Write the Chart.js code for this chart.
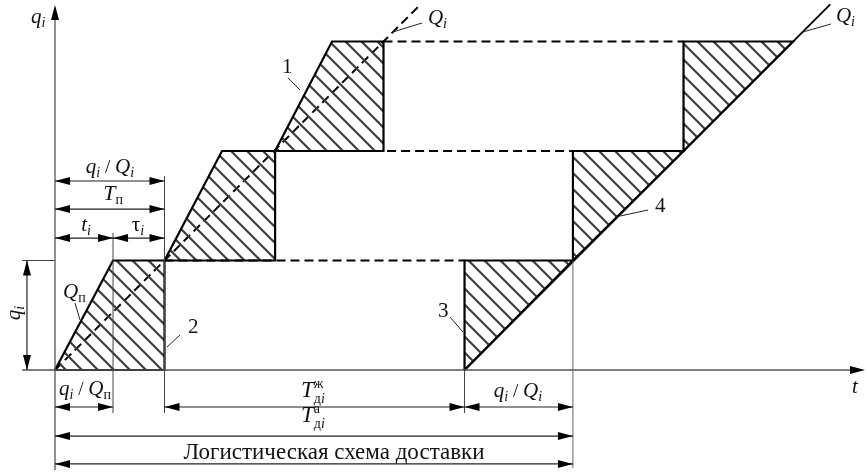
<!DOCTYPE html>
<html><head><meta charset="utf-8">
<script src="https://cdn.jsdelivr.net/npm/chart.js@4/dist/chart.umd.min.js"></script>
<style>html,body{margin:0;padding:0;background:#fff;}canvas{display:block}</style>
</head><body>
<canvas id="c" width="866" height="472"></canvas>
<script>
// Time measured in units of q_i / Q_i, quantity in units of q_i
const levels = [0, 1, 2, 3];
const loadStarts   = [0, 1.0, 2.01];     // loading of each lot begins
const loadRampEnds = [0.53, 1.525, 2.53]; // loading finished at rate Q_п
const loadEnds     = [1.0, 2.01, 3.0];    // lot departs (q_i / Q_i later)
const unloadX      = [3.74, 4.73, 5.74, 6.74]; // unloading line 4 crosses levels 0..3
const qiDashEnd    = 3.34;   // end of dashed Q_i line
const line4End     = [7.08, 3.34];

const canvas = document.getElementById('c');
const ctx = canvas.getContext('2d');

function hatchPattern(){
  const s = 16, c = document.createElement('canvas');
  c.width = s; c.height = s;
  const g = c.getContext('2d');
  g.strokeStyle = '#3c3c3c'; g.lineWidth = 2.2;
  g.beginPath();
  g.moveTo(-3,-3); g.lineTo(s+3,s+3);
  g.moveTo(-3,s-3); g.lineTo(3,s+3);
  g.moveTo(s-3,-3); g.lineTo(s+3,3);
  g.stroke();
  return ctx.createPattern(c,'repeat');
}
const hatch = hatchPattern();

const datasets = [];
// dashed Q_i line
datasets.push({data:[{x:0,y:0},{x:qiDashEnd,y:qiDashEnd}], showLine:true, borderColor:'#000', borderWidth:2, borderDash:[9,5], fill:false, order:5});
// dashed waiting levels
for (let k=0;k<3;k++){
  datasets.push({data:[{x:loadEnds[k],y:levels[k+1]},{x:unloadX[k],y:levels[k+1]}], showLine:true, borderColor:'#000', borderWidth:2, borderDash:[9,5], fill:false, order:5});
}
// loading trapezoids (hatched)
for (let k=0;k<3;k++){
  datasets.push({data:[
    {x:loadStarts[k],y:levels[k]},{x:loadRampEnds[k],y:levels[k+1]},
    {x:loadEnds[k],y:levels[k+1]},{x:loadEnds[k],y:levels[k]},{x:loadStarts[k],y:levels[k]}],
    showLine:true, borderColor:'#000', borderWidth:2.2, backgroundColor:hatch, fill:'shape', order:3});
}
// unloading triangles (hatched)
for (let k=0;k<3;k++){
  datasets.push({data:[
    {x:unloadX[k],y:levels[k]},{x:unloadX[k],y:levels[k+1]},
    {x:unloadX[k+1],y:levels[k+1]},{x:unloadX[k],y:levels[k]}],
    showLine:true, borderColor:'#000', borderWidth:2.2, backgroundColor:hatch, fill:'shape', order:3});
}
// unloading line 4
datasets.push({data:[{x:unloadX[0],y:0},{x:line4End[0],y:line4End[1]}], showLine:true, borderColor:'#000', borderWidth:1.8, fill:false, order:1});

const SERIF = '"Liberation Serif","Times New Roman",serif';
const F = (sz, it) => (it?'italic ':'') + sz + 'px ' + SERIF;

function richWidth(g, parts){
  let w = 0;
  for (const p of parts){
    if (p.stack){ g.font = p.f; w += Math.max(g.measureText(p.sup).width, g.measureText(p.sub.map(s=>s.t).join('')).width); }
    else { g.font = p.f; w += g.measureText(p.t).width + (p.dx||0); }
  }
  return w;
}
function drawRich(g, x, y, parts, align){
  let w = richWidth(g, parts);
  let cx = align==='left' ? x : x - w/2;
  for (const p of parts){
    if (p.stack){
      g.font = p.supF; g.fillText(p.sup, cx, y + p.supDy);
      let sx = cx;
      for (const s of p.sub){ g.font = s.f; g.fillText(s.t, sx, y + p.subDy); sx += g.measureText(s.t).width; }
      g.font = p.f;
      cx += Math.max(g.measureText(p.sup).width, g.measureText(p.sub.map(s=>s.t).join('')).width);
    } else {
      g.font = p.f; g.fillText(p.t, cx + (p.dx||0), y + (p.dy||0));
      cx += g.measureText(p.t).width + (p.dx||0);
    }
  }
}
const S = 21, SS = 14, TS = 23;
const qi = () => [{t:'q',f:F(S,true)},{t:'i',f:F(SS,true),dy:4}];
const Qi = () => [{t:'Q',f:F(S,true)},{t:'i',f:F(SS,true),dy:4}];
const Qp = () => [{t:'Q',f:F(S,true)},{t:'п',f:F(SS,false),dy:4}];
const slash = [{t:' / ',f:F(S-2,false)}];
const Tdi = (sup) => [{t:'T',f:F(TS,true)},{stack:true,f:F(14,false),supF:F(14,false),sup:sup,supDy:-9,subDy:6,sub:[{t:'д',f:F(14,false)},{t:'i',f:F(14,true)}]}];

const annot = {
  id:'annot',
  afterDraw(chart){
    const g = chart.ctx, X = chart.scales.x, Y = chart.scales.y;
    const px = v => X.getPixelForValue(v), py = v => Y.getPixelForValue(v);
    g.save();
    g.lineCap = 'butt';
    const line = (x1,y1,x2,y2,w,c) => { g.strokeStyle=c||'#333'; g.lineWidth=w||1; g.beginPath(); g.moveTo(px(x1),py(y1)); g.lineTo(px(x2),py(y2)); g.stroke(); };
    const head = (x,y,dir) => {
      const a = px(x), b = py(y), L = 15, H = 4;
      g.fillStyle = '#000'; g.beginPath();
      if (dir==='l'){ g.moveTo(a,b); g.lineTo(a+L,b-H); g.lineTo(a+L,b+H); }
      if (dir==='r'){ g.moveTo(a,b); g.lineTo(a-L,b-H); g.lineTo(a-L,b+H); }
      if (dir==='u'){ g.moveTo(a,b); g.lineTo(a-H,b+L); g.lineTo(a+H,b+L); }
      if (dir==='d'){ g.moveTo(a,b); g.lineTo(a-H,b-L); g.lineTo(a+H,b-L); }
      g.closePath(); g.fill();
    };
    const dimH = (x1,x2,y) => { line(x1,y,x2,y,1.2,'#222'); head(x1,y,'l'); head(x2,y,'r'); };
    // axes
    line(0,-0.913,0,3.30,1.3,'#555'); head(0,3.333,'u');
    line(-0.30,0,7.36,0,1.3,'#555'); head(7.397,0,'r');
    // extension lines
    line(-0.30,levels[1],0,levels[1],1,'#444');
    line(loadRampEnds[0],1.251,loadRampEnds[0],-0.393,1,'#444');
    line(loadEnds[0],1.772,loadEnds[0],-0.393,1,'#444');
    line(unloadX[0],0,unloadX[0],-0.393,1,'#444');
    line(unloadX[1],1,unloadX[1],-0.895,1,'#666');
    // dimension arrows
    dimH(0,loadEnds[0],1.726);
    dimH(0,loadEnds[0],1.470);
    dimH(0,loadRampEnds[0],1.205);
    dimH(loadRampEnds[0],loadEnds[0],1.205);
    dimH(0,loadRampEnds[0],-0.338);
    dimH(loadEnds[0],unloadX[0],-0.338);
    dimH(unloadX[0],unloadX[1],-0.338);
    dimH(0,unloadX[1],-0.603);
    dimH(0,unloadX[1],-0.858);
    line(-0.256,0,-0.256,1,1.2,'#222'); head(-0.256,1,'u'); head(-0.256,0,'d');
    // leaders
    const leaders = [[2.128,2.667,2.237,2.557],[1.023,0.210,1.142,0.320],[3.607,0.484,3.726,0.347],
      [5.160,1.406,5.416,1.461],[3.087,3.087,3.352,3.169],[6.831,3.087,7.087,3.160],[0.183,0.612,0.228,0.457]];
    for (const l of leaders) line(l[0],l[1],l[2],l[3],1,'#222');
    // texts
    g.fillStyle = '#111'; g.textBaseline = 'alphabetic';
    drawRich(g, px(0.502), py(1.799), [...qi(), ...slash, ...Qi()]);
    drawRich(g, px(0.530), py(1.553), [{t:'T',f:F(TS-1,true)},{t:'п',f:F(SS,false),dy:4}]);
    drawRich(g, px(0.283), py(1.269), qi().map((p,i)=> i===0?{...p,t:'t'}:p));
    drawRich(g, px(0.758), py(1.269), [{t:'τ',f:F(S,false)},{t:'i',f:F(SS,true),dy:4}]);
    drawRich(g, px(0.274), py(-0.228), [...qi(), ...slash, ...Qp()]);
    drawRich(g, px(2.356), py(-0.247), Tdi('ж'));
    drawRich(g, px(4.228), py(-0.247), [...qi(), ...slash, ...Qi()]);
    drawRich(g, px(2.356), py(-0.475), Tdi('а'));
    drawRich(g, px(2.548), py(-0.813), [{t:'Логистическая схема доставки',f:F(23,false)}]);
    drawRich(g, px(2.073), py(2.712), [{t:'1',f:F(S,false)}], 'left');
    drawRich(g, px(1.215), py(0.338), [{t:'2',f:F(S,false)}], 'left');
    drawRich(g, px(3.498), py(0.484), [{t:'3',f:F(S,false)}], 'left');
    drawRich(g, px(5.479), py(1.443), [{t:'4',f:F(S,false)}], 'left');
    drawRich(g, px(3.406), py(3.160), Qi(), 'left');
    drawRich(g, px(7.132), py(3.178), Qi(), 'left');
    drawRich(g, px(0.073), py(0.658), Qp(), 'left');
    drawRich(g, px(7.279), py(-0.210), [{t:'t',f:F(S,true)}], 'left');
    drawRich(g, px(-0.219), py(3.169), qi(), 'left');
    g.save(); g.translate(px(-0.374), py(0.521)); g.rotate(-Math.PI/2);
    drawRich(g, 0, 6, qi()); g.restore();
    g.restore();
  }
};

new Chart(ctx, {
  type:'scatter',
  data:{datasets},
  options:{
    responsive:false, animation:false, events:[],
    layout:{padding:0},
    plugins:{legend:{display:false}, tooltip:{enabled:false}},
    elements:{point:{radius:0,hoverRadius:0}, line:{tension:0}},
    scales:{
      x:{type:'linear', display:false, min:-55/109.5, max:811/109.5},
      y:{type:'linear', display:false, min:-102/109.5, max:370/109.5}
    }
  },
  plugins:[annot]
});
</script>
</body></html>
